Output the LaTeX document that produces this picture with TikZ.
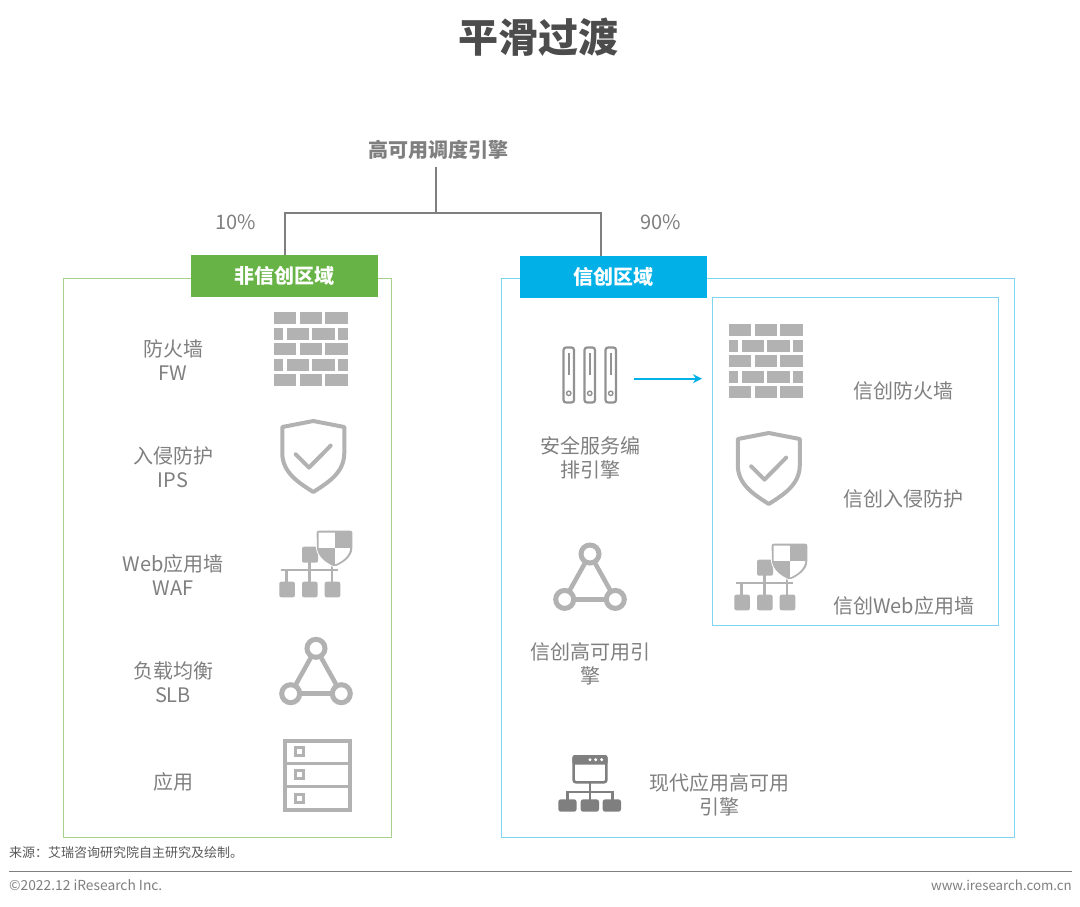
\documentclass[tikz,border=0pt]{standalone}
\usepackage{fontspec}
\setmainfont{Noto Sans CJK SC}
\usepackage{xcolor}
\usetikzlibrary{arrows.meta,positioning,calc}
\definecolor{txtGray}{RGB}{127,127,127}
\definecolor{iconGray}{RGB}{178,178,178}
\definecolor{nonGreen}{RGB}{103,179,70}
\definecolor{nonFrame}{RGB}{169,209,142}
\definecolor{xcBlue}{RGB}{0,176,230}
\definecolor{xcFrame}{RGB}{127,212,240}
\tikzset{
  pics/wallicon/.style={code={
    \foreach \y in {0,31,62}
      \foreach \x in {0,26,51.7}
        \fill[iconGray] (\x-0.4,\y-0.4) rectangle ++(22.4,12.2);
    \foreach \y in {16,47} {
      \fill[iconGray] (-0.4,\y-0.4) rectangle ++(9.5,11.8);
      \fill[iconGray] (12.6,\y-0.4) rectangle ++(22.5,11.8);
      \fill[iconGray] (38.3,\y-0.4) rectangle ++(22.4,11.8);
      \fill[iconGray] (64.3,\y-0.4) rectangle ++(9.4,11.8);
    }
  }},
  pics/shieldicon/.style={code={
    \draw[iconGray,line width=4pt,line join=round] (0,0) -- (-31,6) -- (-31,32)
      .. controls (-31,52) and (-14,62) .. (0,71)
      .. controls (14,62) and (31,52) .. (31,32) -- (31,6) -- cycle;
    \draw[iconGray,line width=4pt,line cap=round,line join=round] (-17.6,33.3) -- (-4.3,46.6) -- (17.4,24.6);
  }},
  pics/wareicon/.style={code={
    % left block, bus and the three boxes
    \fill[iconGray,rounded corners=2pt] (22,16.7) rectangle ++(16,16);
    \draw[iconGray,line width=2.6pt] (0.7,40) -- (58.3,40);
    \draw[iconGray,line width=2.6pt] (29.3,32) -- (29.3,52);
    \foreach \x in {6.7,52} \draw[iconGray,line width=2.6pt] (\x,40) -- (\x,52);
    \draw[iconGray,line width=2.6pt] (52,33) -- (52,40);
    \foreach \x in {-0.7,22,44.7}
      \fill[iconGray,rounded corners=2pt] (\x,51.7) rectangle ++(15.6,15.6);
    % shield, checked
    \fill[iconGray,rounded corners=2pt] (36.7,0.7) -- (72.3,0.7) -- (72.3,16)
      .. controls (72.3,27) and (63,33) .. (54.5,36.7)
      .. controls (46,33) and (36.7,27) .. (36.7,16) -- cycle;
    \draw[white,line width=0.8pt] (36.3,8) -- (36.3,16)
      .. controls (36.3,27) and (46,33.4) .. (54.5,37.2);
    \begin{scope}
      \clip (38.5,2.5) -- (70.5,2.5) -- (70.5,16)
        .. controls (70.5,26) and (62,31.5) .. (54.5,34.7)
        .. controls (47,31.5) and (38.5,26) .. (38.5,16) -- cycle;
      \fill[white] (38,2) rectangle (54.5,18);
      \fill[white] (54.5,18) rectangle (71,36);
    \end{scope}
  }},
  pics/triicon/.style={code={
    \draw[iconGray,line width=5pt] (0,0) circle (9);
    \draw[iconGray,line width=5pt] (-25.3,45.4) circle (9);
    \draw[iconGray,line width=5pt] (25.3,45.4) circle (9);
    \draw[iconGray,line width=4.5pt] (-4.4,7.9) -- (-20.9,37.5);
    \draw[iconGray,line width=4.5pt] (4.4,7.9) -- (20.9,37.5);
    \draw[iconGray,line width=4.5pt] (-16.3,45.4) -- (16.3,45.4);
  }},
  word/.style={font=\fontsize{20}{24}\selectfont,text=txtGray,align=center,inner sep=0pt},
  headbox/.style={minimum width=187pt,minimum height=42pt,inner sep=0pt,
    font=\fontsize{20}{24}\selectfont\bfseries,text=white},
  bladebox/.style={draw=txtGray!85,line width=2.2pt,rounded corners=2.5pt}
}
\begin{document}
\begin{tikzpicture}[x=1pt,y=-1pt,>=Stealth]
  \useasboundingbox (0,0) rectangle (1080,906);
  \fill[white] (0,0) rectangle (1080,906);
  \node[font=\fontsize{40}{48}\selectfont\bfseries,text=black!70,inner sep=0pt] (title) at (538,37) {平滑过渡};
  \node[word,font=\fontsize{20}{24}\selectfont\bfseries] (engine) at (438,150) {高可用调度引擎};
  \node[word] (p10) at (235.5,222) {10\%};
  \node[word] (p90) at (660.5,222) {90\%};
  % frames
  \draw[nonFrame,line width=1pt] (63,278) rectangle (391,837);
  \draw[xcFrame,line width=1pt] (501,278) rectangle (1014,837);
  \draw[xcFrame,line width=1pt] (712,297) rectangle (998,625);
  \node[headbox,fill=nonGreen] (nonxc) at (284.5,276) {非信创区域};
  \node[headbox,fill=xcBlue] (xc) at (613.5,277) {信创区域};
  % tree
  \coordinate (busj) at (436,213);
  \coordinate (xcin) at (601,256);
  \draw[txtGray,line width=2pt] (436,167) -- (busj);
  \draw[txtGray,line width=2pt] (nonxc.north) |- (busj) -| (xcin);
  % left column
  \node[word] (fw) at (173,360) {防火墙\\FW};
  \node[word] (ips) at (173,467) {入侵防护\\IPS};
  \node[word] (waf) at (173,575) {Web应用墙\\WAF};
  \node[word] (slb) at (173,682) {负载均衡\\SLB};
  \node[word] (app) at (173,782) {应用};
  \pic at (274,312.5) {wallicon};
  \pic at (313.3,421) {shieldicon};
  \pic at (280,530) {wareicon};
  \pic at (316,648.3) {triicon};
  % rack
  \draw[iconGray,line width=4pt] (284.5,741) rectangle (349.5,810);
  \draw[iconGray,line width=3.5pt] (284,763.7) -- (350,763.7);
  \draw[iconGray,line width=3.5pt] (284,786.7) -- (350,786.7);
  \foreach \y in {751.7,774.7,798}
    \draw[iconGray,line width=3pt] (295.3,\y-4) rectangle ++(8,8);
  % right column
  \node[word] (safe) at (590,458) {安全服务编\\排引擎};
  \node[word] (xcha) at (590,664) {信创高可用引\\擎};
  \node[word] (mod) at (719,795) {现代应用高可用\\引擎};
  \node[word] (xcfw) at (903.5,391) {信创防火墙};
  \node[word] (xcips) at (903.5,499) {信创入侵防护};
  \node[word] (xcwaf) at (903.5,606) {信创Web应用墙};
  \pic at (729,324.5) {wallicon};
  \pic at (768.8,433) {shieldicon};
  \pic at (735,543) {wareicon};
  \pic at (590,554) {triicon};
  % blades
  \foreach \x in {563.5,584.5,605.5} {
    \draw[bladebox] (\x,347.5) rectangle ++(10.5,55);
    \draw[txtGray!85,line width=2.2pt] (\x+5.25,353) -- ++(0,22);
    \draw[txtGray!85,line width=1.4pt] (\x+5.25,393.3) circle (2.2);
  }
  \coordinate (bladeout) at (633.7,378.7);
  \coordinate (wallin) at (702,378.7);
  \draw[-{Stealth[length=9pt,width=9pt]},xcBlue,line width=2pt] (bladeout) -- (wallin);
  % modern app icon
  \draw[txtGray,line width=2.6pt,rounded corners=2.5pt] (573.6,756.3) rectangle (606.4,782.3);
  \fill[txtGray,rounded corners=2.5pt] (572.3,755) rectangle (607.7,764.5);
  \foreach \x in {590,595.7,601.7} \fill[white] (\x,759.7) circle (1.7);
  \draw[txtGray,line width=2.6pt] (590,783) -- (590,800);
  \draw[txtGray,line width=2.6pt] (567.5,800) -- (567.5,792) -- (612.5,792) -- (612.5,800);
  \foreach \x in {558.3,580.7,602.7}
    \fill[txtGray,rounded corners=2.5pt] (\x,799.3) rectangle ++(18.3,12.4);
  % footer
  \node[anchor=west,inner sep=0pt,font=\fontsize{13}{15}\selectfont,text=black!65] (src) at (9,853) {来源：艾瑞咨询研究院自主研究及绘制。};
  \draw[txtGray,line width=1pt] (9,871) -- (1072,871);
  \node[anchor=west,inner sep=0pt,font=\fontsize{13.8}{16}\selectfont,text=txtGray] (copy) at (9,885) {©2022.12 iResearch Inc.};
  \node[anchor=east,inner sep=0pt,font=\fontsize{13.3}{16}\selectfont,text=txtGray] (web) at (1072,885) {www.iresearch.com.cn};
\end{tikzpicture}
\end{document}
